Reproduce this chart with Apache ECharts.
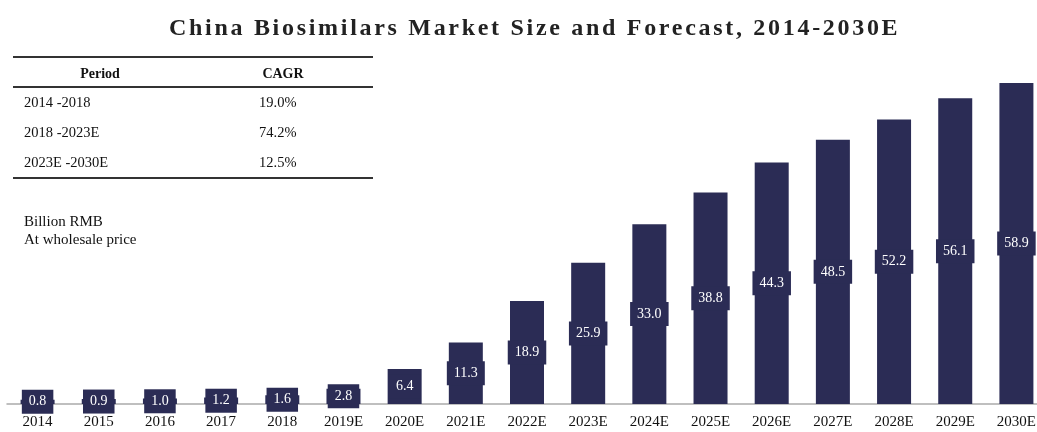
<!DOCTYPE html>
<html><head><meta charset="utf-8">
<script src="https://cdn.jsdelivr.net/npm/echarts@6/dist/echarts.min.js"></script>
<style>html,body{margin:0;padding:0;background:#fff}
#wrap{position:relative;width:1037px;height:432px}
#c{position:absolute;left:0;top:0;width:1037px;height:432px}
#t{position:absolute;left:0;top:0;width:1037px;height:50px}</style>
</head><body><div id="wrap"><div id="c"></div><div id="t"></div></div>
<script>
const titleText = 'China Biosimilars Market Size and Forecast, 2014-2030E';
const categories = ['2014','2015','2016','2017','2018','2019E','2020E','2021E','2022E','2023E','2024E','2025E','2026E','2027E','2028E','2029E','2030E'];
const marketSize = [0.8,0.9,1.0,1.2,1.6,2.8,6.4,11.3,18.9,25.9,33.0,38.8,44.3,48.5,52.2,56.1,58.9];
const tableHeader = ['Period','CAGR'];
const tablePeriods = ['2014 -2018','2018 -2023E','2023E -2030E'];
const tableCagr = ['19.0%','74.2%','12.5%'];
const unitNote = ['Billion RMB','At wholesale price'];

const SERIF = '"Liberation Serif","Times New Roman",serif';
const BAR = '#2b2c55';
const chart = echarts.init(document.getElementById('c'));

const g = [];
g.push({type:'line',shape:{x1:13,y1:57,x2:373,y2:57},style:{stroke:'#333',lineWidth:1.8}});
g.push({type:'text',x:100,y:74,style:{text:tableHeader[0],font:'bold 14px '+SERIF,fill:'#111',align:'center',verticalAlign:'middle'}});
g.push({type:'text',x:283,y:74,style:{text:tableHeader[1],font:'bold 14px '+SERIF,fill:'#111',align:'center',verticalAlign:'middle'}});
g.push({type:'line',shape:{x1:13,y1:87,x2:373,y2:87},style:{stroke:'#333',lineWidth:1.8}});
tablePeriods.forEach((p,i)=>{
  g.push({type:'text',x:24,y:103+30*i,style:{text:p,font:'14.5px '+SERIF,fill:'#111',align:'left',verticalAlign:'middle'}});
  g.push({type:'text',x:259,y:103+30*i,style:{text:tableCagr[i],font:'14.5px '+SERIF,fill:'#111',align:'left',verticalAlign:'middle'}});
});
g.push({type:'line',shape:{x1:13,y1:178,x2:373,y2:178},style:{stroke:'#333',lineWidth:1.8}});
unitNote.forEach((t,i)=>{
  g.push({type:'text',x:24,y:222+18*i,style:{text:t,font:'15px '+SERIF,fill:'#111',align:'left',verticalAlign:'middle'}});
});

chart.setOption({
  animation:false,
  grid:{left:7,width:1040,bottom:28,height:327,outerBoundsMode:'none',containLabel:false},
  xAxis:{type:'category',data:categories,
    axisLine:{lineStyle:{color:'#aaa',width:1.5}},axisTick:{show:false},
    axisLabel:{fontFamily:SERIF,fontSize:15,color:'#111',margin:11}},
  yAxis:{type:'value',min:0,max:60,show:false,splitLine:{show:false}},
  graphic:g,
  series:[{type:'bar',data:marketSize,barWidth:34,itemStyle:{color:BAR},
    label:{show:true,position:'inside',formatter:p=>p.value.toFixed(1),
      color:'#fff',fontFamily:SERIF,fontSize:14,backgroundColor:BAR,padding:[5,7]}}]
});

// Title chart: its canvas gets letter spacing like the reference
const tchart = echarts.init(document.getElementById('t'));
const titleOpt = (c) => ({
  animation:false,
  title:{text:titleText,left:164,top:12,
    textStyle:{fontFamily:SERIF,fontWeight:'bold',fontSize:24,color:c}}
});
tchart.setOption(titleOpt('#212121'));
document.querySelectorAll('#t canvas').forEach(cv => {
  const ctx = cv.getContext('2d');
  if ('letterSpacing' in ctx) ctx.letterSpacing = '2.7px';
});
tchart.setOption(titleOpt('#222'));
tchart.getZr().refreshImmediately();
</script></body></html>
